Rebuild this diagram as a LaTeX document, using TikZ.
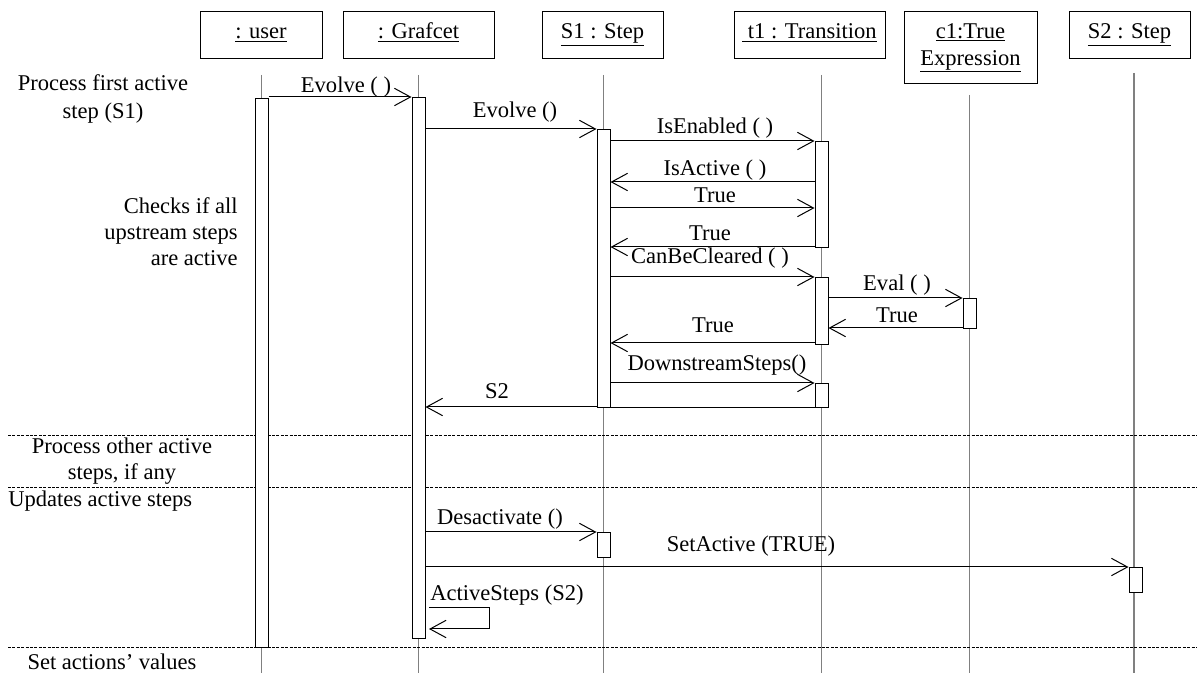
\documentclass[tikz,border=0pt]{standalone}
\usepackage{fontspec}
\setmainfont{Liberation Serif}
\usetikzlibrary{arrows.meta}
\begin{document}
\begin{tikzpicture}[x=0.75pt,y=-0.75pt,
  font=\fontsize{16.9}{19.5}\selectfont,
  hdr/.style={draw, line width=0.75pt, inner sep=0pt, minimum height=47*0.75pt, text height=12pt, text depth=7pt},
  life/.style={draw=gray, line width=0.9pt},
  act/.style={draw, fill=white, line width=0.75pt, inner sep=0pt, minimum width=13*0.75pt, anchor=north},
  msg/.style={draw, line width=0.75pt, -{Straight Barb[length=12pt,width=13pt,line width=0.75pt]}},
  plain/.style={draw, line width=0.75pt},
  lbl/.style={inner sep=0pt},
  sepline/.style={draw, line width=0.6pt, dash pattern=on 2.2pt off 1.1pt},
]
\useasboundingbox (0,0) rectangle (1197,673);

% header boxes
\node[hdr, minimum width=122*0.75pt] (hU) at (261,35.5) {\underline{: user}};
\node[hdr, minimum width=151*0.75pt] (hG) at (418.5,35.5) {\underline{: Grafcet}};
\node[hdr, minimum width=121*0.75pt] (hS1) at (602.5,35.5) {\underline{S1 : Step}};
\node[hdr, minimum width=151*0.75pt] (hT) at (809.5,35.5) {\underline{\ t1 : Transition}};
\node[draw, line width=0.75pt, inner sep=0pt, minimum width=133*0.75pt, minimum height=72*0.75pt, align=center, font=\fontsize{16.9}{20}\selectfont] (hC) at (970.5,48) {\underline{c1:True}\\\underline{Expression}};
\node[hdr, minimum width=121*0.75pt] (hS2) at (1129.5,35.5) {\underline{S2 : Step}};

% lifelines
\coordinate (lUa) at (261.5,75);  \coordinate (lUb) at (261.5,673);
\coordinate (lGa) at (418.5,75);  \coordinate (lGb) at (418.5,673);
\coordinate (lSa) at (603.5,75);  \coordinate (lSb) at (603.5,673);
\coordinate (lTa) at (821.5,75);  \coordinate (lTb) at (821.5,673);
\coordinate (lCa) at (969.5,95);  \coordinate (lCb) at (969.5,673);
\coordinate (lS2a) at (1134,73);  \coordinate (lS2b) at (1134,673);
\draw[life] (lUa) -- (lUb);
\draw[life] (lGa) -- (lGb);
\draw[life] (lSa) -- (lSb);
\draw[life] (lTa) -- (lTb);
\draw[life] (lCa) -- (lCb);
\draw[life] (lS2a) -- (lS2b);

% separators
\coordinate (d1a) at (8,435); \coordinate (d1b) at (1197,435);
\coordinate (d2a) at (8,487); \coordinate (d2b) at (1197,487);
\coordinate (d3a) at (8,647); \coordinate (d3b) at (1197,647);
\draw[sepline] (d1a) -- (d1b);
\draw[sepline] (d2a) -- (d2b);
\draw[sepline] (d3a) -- (d3b);

% activation boxes
\node[act, minimum height=549*0.75pt] (aU) at (261.5,98) {};
\node[act, minimum height=541*0.75pt] (aG) at (418.5,97) {};
\node[act, minimum height=278*0.75pt] (aS) at (603.5,129) {};
\node[act, minimum height=106*0.75pt] (aT1) at (821.5,141) {};
\node[act, minimum height=67*0.75pt] (aT2) at (821.5,277) {};
\node[act, minimum height=24*0.75pt] (aT3) at (821.5,383) {};
\node[act, minimum height=30*0.75pt] (aC) at (969.5,298) {};
\node[act, minimum height=25*0.75pt] (aSb) at (603.5,532) {};
\node[act, minimum height=25*0.75pt] (aS2) at (1135.5,567) {};

% message heights
\coordinate (y1) at (0,97);
\coordinate (y2) at (0,129);
\coordinate (y3) at (0,141);
\coordinate (y4) at (0,182);
\coordinate (y5) at (0,208);
\coordinate (y6) at (0,247);
\coordinate (y7) at (0,277);
\coordinate (y8) at (0,298);
\coordinate (y9) at (0,328);
\coordinate (y10) at (0,343);
\coordinate (y11) at (0,383);
\coordinate (y12) at (0,407);
\coordinate (y14) at (0,532);
\coordinate (y15) at (0,567);

\draw[msg] (aU.east |- y1) -- (aG.west |- y1);
\draw[msg] (aG.east |- y2) -- (aS.west |- y2);
\draw[msg] (aS.east |- y3) -- (aT1.west |- y3);
\draw[msg] (aT1.west |- y4) -- (aS.east |- y4);
\draw[msg] (aS.east |- y5) -- (aT1.west |- y5);
\draw[msg] (aT1.west |- y6) -- (aS.east |- y6);
\draw[msg] (aS.east |- y7) -- (aT2.west |- y7);
\draw[msg] (aT2.east |- y8) -- (aC.west |- y8);
\draw[msg] (aC.west |- y9) -- (aT2.east |- y9);
\draw[msg] (aT2.west |- y10) -- (aS.east |- y10);
\draw[msg] (aS.east |- y11) -- (aT3.west |- y11);
\draw[plain] (aT3.south west) -- (aS.south east);
\draw[msg] (aS.west |- y12) -- (aG.east |- y12);
\draw[msg] (aG.east |- y14) -- (aSb.west |- y14);
\draw[msg] (aG.east |- y15) -- (aS2.west |- y15);
\coordinate (lp1) at (429,608);
\coordinate (lp2) at (489,608);
\coordinate (lp3) at (489,629);
\coordinate (lp4) at (429,629);
\draw[msg] (lp1) -- (lp2) -- (lp3) -- (lp4);

% message labels
\node[lbl] (t1) at (346,87) {Evolve ( )};
\node[lbl] (t2) at (515,112) {Evolve ()};
\node[lbl] (t3) at (715,128) {IsEnabled ( )};
\node[lbl] (t4) at (715,170) {IsActive ( )};
\node[lbl] (t5) at (715,195) {True};
\node[lbl] (t6) at (710,233) {True};
\node[lbl] (t7) at (710,258) {CanBeCleared ( )};
\node[lbl] (t8) at (897,285) {Eval ( )};
\node[lbl] (t9) at (897,315) {True};
\node[lbl] (t10) at (713,325) {True};
\node[lbl] (t11) at (717,365) {DownstreamSteps()};
\node[lbl] (t12) at (497,391) {S2};
\node[lbl] (t14) at (500,519) {Desactivate ()};
\node[lbl] (t15) at (751,546) {SetActive (TRUE)};
\node[lbl, anchor=west] (t16) at (430,595) {ActiveSteps (S2)};

% left annotations
\node[lbl, align=center, font=\fontsize{16.9}{21}\selectfont] (n1) at (103,99) {Process first active\\step (S1)};
\node[lbl, align=right, anchor=east] (n2) at (238,232) {Checks if all\\upstream steps\\are active};
\node[lbl, align=center] (n3) at (122,461.5) {Process other active\\steps, if any};
\node[lbl, anchor=west] (n4) at (8,501) {Updates active steps};
\node[lbl] (n5) at (112,662) {Set actions’ values};
\end{tikzpicture}
\end{document}
